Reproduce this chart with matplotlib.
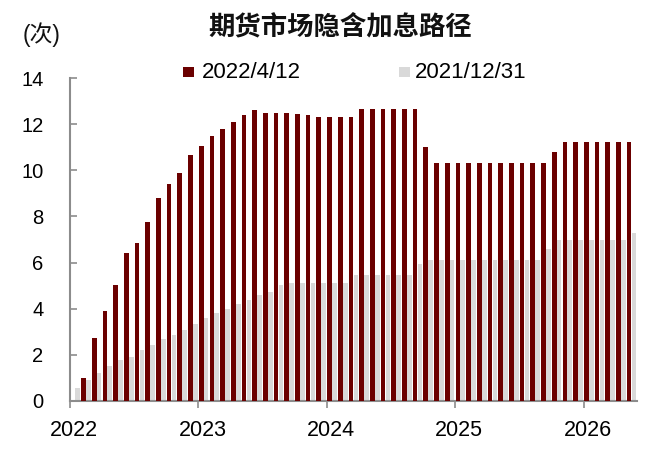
import numpy as np
import pandas as pd
import matplotlib
matplotlib.use("Agg")
import matplotlib.pyplot as plt
import matplotlib.transforms as mtransforms
from matplotlib.patches import Rectangle

plt.rcParams['font.family'] = ['Liberation Sans', 'Noto Sans CJK SC', 'DejaVu Sans']

# ---- data ----
months = pd.period_range("2022-01", "2026-05", freq="M").strftime("%Y-%m").tolist()
year_labels = ["2022", "2023", "2024", "2025", "2026"]
series_names = ["2022/4/12", "2021/12/31"]

path_20220412 = ([np.nan,
                  1.01, 2.73, 3.90, 5.01, 6.42, 6.84, 7.76, 8.82, 9.42, 9.90,
                  10.68, 11.07, 11.50, 11.81, 12.11, 12.38, 12.63,
                  12.47, 12.47, 12.47, 12.44, 12.38, 12.31, 12.31, 12.31, 12.31]
                 + [12.67] * 6 + [10.99] + [10.30] * 11 + [10.81] + [11.23] * 7)

path_20211231 = ([0.58, 0.90, 1.20, 1.50, 1.76, 1.89, 2.23, 2.44, 2.67, 2.88,
                  3.08, 3.32, 3.60, 3.80, 3.97, 4.19, 4.36, 4.60, 4.71, 5.01]
                 + [5.12] * 6 + [5.45] * 6 + [5.94] + [6.10] * 11 + [6.58]
                 + [6.97] * 7 + [7.30])

title = "期货市场隐含加息路径"
unit = "(次)"

RED = "#6B0000"
GRAY = "#D9D9D9"
AXC = "#8C8C8C"

fig = plt.figure(figsize=(6.65, 4.54), dpi=100)
ax = fig.add_axes([70 / 665, (454 - 401) / 454, 567 / 665, (401 - 78) / 454])

x = np.arange(len(months))
bw = 0.44
ax.bar(x + 0.72, path_20211231, width=bw, color=GRAY, linewidth=0, zorder=2)
ax.bar(x + 0.26, path_20220412, width=bw, color=RED, linewidth=0, zorder=3)

ax.set_xlim(0, len(months))
ax.set_ylim(0, 14)
ax.set_yticks(np.arange(0, 15, 2))
ax.set_yticklabels([str(v) for v in range(0, 15, 2)])

year_pos = [i for i, m in enumerate(months) if m.endswith("-01")]
ax.set_xticks(year_pos)
ax.set_xticklabels(year_labels)

for s in ["top", "right"]:
    ax.spines[s].set_visible(False)
for s in ["left", "bottom"]:
    ax.spines[s].set_color(AXC)
    ax.spines[s].set_linewidth(1.5)

ax.tick_params(axis="y", direction="in", length=5, width=1.2, color=AXC,
               labelsize=14.5, pad=19, labelcolor="black")
ax.tick_params(axis="x", direction="out", length=5, width=1.2, color=AXC,
               labelsize=15.5, pad=9, labelcolor="black")

offset = mtransforms.ScaledTranslation(4 / 100, 0, fig.dpi_scale_trans)
for lab in ax.get_xticklabels():
    lab.set_transform(lab.get_transform() + offset)

# title and unit
fig.text(340 / 665, 1 - 27 / 454, title, ha="center", va="center",
         fontsize=19, fontweight="bold", family=["Noto Sans CJK SC"], color="#111111")
fig.text(42 / 665, 1 - 35 / 454, unit, ha="center", va="center",
         fontsize=16.5, family=["Liberation Sans", "Noto Sans CJK SC"], color="#111111")

# legend (manual)
leg_items = [(183, 202, RED, series_names[0]), (399, 415, GRAY, series_names[1])]
for sx, tx, col, name in leg_items:
    fig.patches.append(Rectangle((sx / 665, 1 - 77 / 454), 10.5 / 665, 10.5 / 454,
                                 transform=fig.transFigure, color=col, linewidth=0))
    fig.text(tx / 665, 1 - 72 / 454, name, ha="left", va="center", fontsize=16,
             color="black")

fig.savefig("out.png", dpi=100)
